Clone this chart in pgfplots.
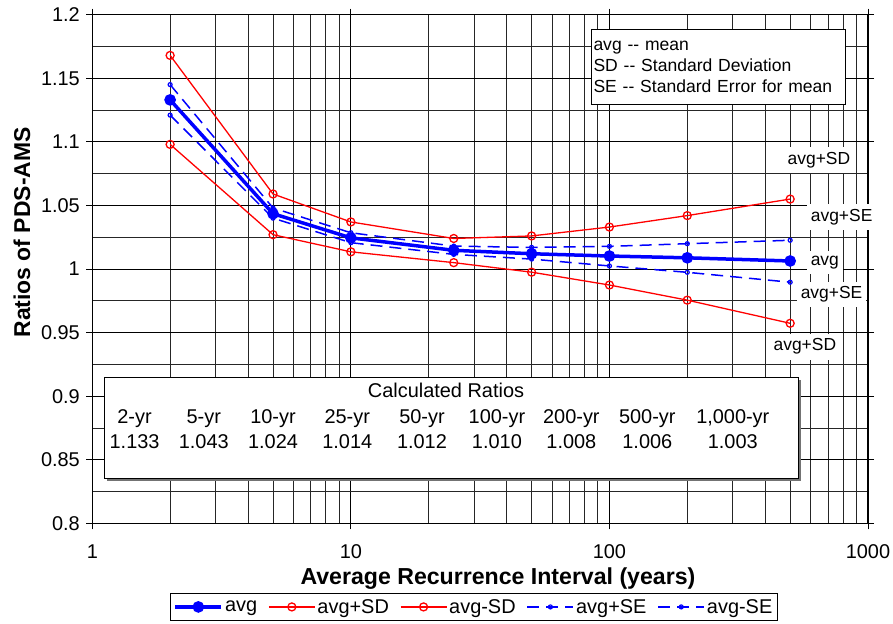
\documentclass[border=0pt]{standalone}
\usepackage{fontspec}
\setmainfont{Liberation Sans}
\usepackage{pgfplots}
\pgfplotsset{compat=1.18}
\definecolor{pblue}{RGB}{0,0,255}
\definecolor{pred}{RGB}{255,0,0}
\begin{document}
\begin{tikzpicture}
\path[use as bounding box] (-92.3bp,-100.7bp) rectangle (800.7bp,523.3bp);
\begin{axis}[
  at={(0,0)}, anchor=south west,
  scale only axis, width=775.7bp, height=508.6bp,
  xmode=log, xmin=1, xmax=1000, ymin=0.8, ymax=1.2,
  clip=false,
  xtick={1,10,100,1000}, xticklabels={1,10,100,1000},
  minor xtick={2,3,4,5,6,7,8,9,20,30,40,50,60,70,80,90,200,300,400,500,600,700,800,900},
  ytick={0.8,0.85,0.9,0.95,1,1.05,1.1,1.15,1.2},
  yticklabels={0.8,0.85,0.9,0.95,1,1.05,1.1,1.15,1.2},
  minor ytick={0.825,0.875,0.925,0.975,1.025,1.075,1.125,1.175},
  grid=both,
  major grid style={black, line width=0.8bp},
  minor grid style={black!85, line width=0.8bp},
  tick align=outside, major tick length=6bp, minor tick length=0bp,
  tick style={black, line width=0.8bp},
  axis line style={black, line width=1.3bp},
  ticklabel style={font=\fontsize{20}{23}\selectfont},
  xticklabel style={yshift=-12bp},
  yticklabel style={xshift=-3bp},
  /pgf/number format/assume math mode=true,
  xlabel={Average Recurrence Interval (years)},
  ylabel={Ratios of PDS-AMS},
  xlabel style={font=\bfseries\fontsize{23.2}{26}\selectfont, at={(axis description cs:0.523,-0.108)}, anchor=center},
  ylabel style={font=\bfseries\fontsize{23}{26}\selectfont, at={(axis description cs:-0.0906,0.572)}, anchor=center},
  legend columns=5,
  legend style={at={(0.492,-0.1365)}, anchor=north, font=\fontsize{20}{23}\selectfont,
    draw=black, line width=1bp, inner xsep=3bp, inner ysep=4bp,
    /tikz/every even column/.append style={column sep=9bp}},
  legend image code/.code={\draw[mark repeat=2,mark phase=2,#1] plot coordinates {(0bp,0bp) (23bp,0bp) (46bp,0bp)};},
]
\addplot[pblue, line width=3.5bp, mark=*, mark size=4bp, mark options={solid, fill=pblue}] coordinates {
(2,1.133) (5,1.0435) (10,1.0245) (25,1.0147) (50,1.012) (100,1.0102) (200,1.0088) (500,1.0063)};
\addlegendentry{avg}
\addplot[pred, line width=1.3bp, mark=o, mark size=4bp, mark options={solid, fill=white}] coordinates {
(2,1.168) (5,1.059) (10,1.037) (25,1.024) (50,1.026) (100,1.033) (200,1.042) (500,1.055)};
\addlegendentry{avg+SD}
\addplot[pred, line width=1.3bp, mark=o, mark size=4bp, mark options={solid, fill=white}] coordinates {
(2,1.098) (5,1.027) (10,1.0135) (25,1.005) (50,0.9975) (100,0.9874) (200,0.9755) (500,0.9573)};
\addlegendentry{avg-SD}
\addplot[pblue, line width=1.5bp, dash pattern=on 12bp off 7bp, mark=o, mark size=2bp, mark options={solid, fill=white, line width=1.2bp}] coordinates {
(2,1.145) (5,1.048) (10,1.0285) (25,1.018) (50,1.017) (100,1.0178) (200,1.0199) (500,1.0226)};
\addlegendentry{avg+SE}
\addplot[pblue, line width=1.5bp, dash pattern=on 12bp off 7bp, mark=o, mark size=2bp, mark options={solid, fill=white, line width=1.2bp}] coordinates {
(2,1.121) (5,1.040) (10,1.0207) (25,1.0115) (50,1.0078) (100,1.0024) (200,0.9974) (500,0.9896)};
\addlegendentry{avg-SE}

% series labels at the right
\begin{scope}[every node/.style={fill=white, inner xsep=4bp, inner ysep=5bp, font=\fontsize{17.5}{20}\selectfont}]
\node at (axis cs:646,1.0857) {avg+SD};
\node at (axis cs:791,1.0407) {avg+SE};
\node at (axis cs:681,1.005) {avg};
\node at (axis cs:723,0.980) {avg+SE};
\node at (axis cs:570,0.9389) {avg+SD};
\end{scope}

% definitions box
\node[draw=black, fill=white, line width=1bp, align=left, anchor=north west, inner xsep=2bp, inner ysep=3bp,
  text width=250bp, minimum height=75.6bp, font=\fontsize{17.6}{21.3}\selectfont]
  at (rel axis cs:0.6429,0.9725) {avg {-}{-} mean\\SD {-}{-} Standard Deviation\\SE {-}{-} Standard Error for mean};

% calculated ratios box
\fill[black!55] ([xshift=2.5bp,yshift=-2.5bp]rel axis cs:0.0151,0.0885) rectangle ([xshift=2.5bp,yshift=-2.5bp]rel axis cs:0.9098,0.287);
\draw[fill=white, line width=1bp] (rel axis cs:0.0151,0.0885) rectangle (rel axis cs:0.9098,0.287);
\begin{scope}[every node/.style={font=\fontsize{20}{23}\selectfont, inner sep=0pt, anchor=base}]
\node at (rel axis cs:0.456,0.247) {Calculated Ratios};
\node at (rel axis cs:0.0545,0.1966) {2-yr};
\node at (rel axis cs:0.1437,0.1966) {5-yr};
\node at (rel axis cs:0.2330,0.1966) {10-yr};
\node at (rel axis cs:0.3287,0.1966) {25-yr};
\node at (rel axis cs:0.4250,0.1966) {50-yr};
\node at (rel axis cs:0.5216,0.1966) {100-yr};
\node at (rel axis cs:0.6176,0.1966) {200-yr};
\node at (rel axis cs:0.7155,0.1966) {500-yr};
\node at (rel axis cs:0.8257,0.1966) {1,000-yr};
\node at (rel axis cs:0.0545,0.147) {1.133};
\node at (rel axis cs:0.1437,0.147) {1.043};
\node at (rel axis cs:0.2330,0.147) {1.024};
\node at (rel axis cs:0.3287,0.147) {1.014};
\node at (rel axis cs:0.4250,0.147) {1.012};
\node at (rel axis cs:0.5216,0.147) {1.010};
\node at (rel axis cs:0.6176,0.147) {1.008};
\node at (rel axis cs:0.7155,0.147) {1.006};
\node at (rel axis cs:0.8257,0.147) {1.003};
\end{scope}
\end{axis}
\end{tikzpicture}
\end{document}
